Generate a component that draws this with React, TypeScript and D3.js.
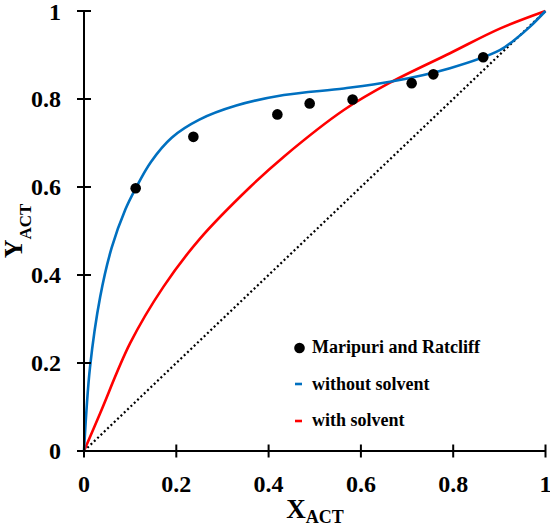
import React from "react";
import * as d3 from "d3";

const xTicks = [0, 0.2, 0.4, 0.6, 0.8, 1];
const yTicks = [0, 0.2, 0.4, 0.6, 0.8, 1];

const expX = [0.112, 0.237, 0.419, 0.489, 0.582, 0.71, 0.757, 0.865];
const expY = [0.597, 0.714, 0.765, 0.79, 0.799, 0.836, 0.856, 0.895];

const blueX = [0, 0.013, 0.035, 0.06, 0.09, 0.112, 0.145, 0.19, 0.25, 0.33, 0.433, 0.563, 0.663, 0.793, 0.901, 0.93, 0.966, 1];
const blueY = [0, 0.19, 0.35, 0.462, 0.55, 0.597, 0.657, 0.712, 0.753, 0.785, 0.809, 0.824, 0.839, 0.87, 0.911, 0.932, 0.964, 1];

const redX = [0, 0.035, 0.1, 0.172, 0.25, 0.36, 0.433, 0.563, 0.663, 0.793, 0.901, 1];
const redY = [0, 0.086, 0.245, 0.373, 0.481, 0.6, 0.669, 0.775, 0.837, 0.904, 0.96, 1];

const diagX = [0, 1];
const diagY = [0, 1];

const legendLabels = ["Maripuri and Ratcliff", "without solvent", "with solvent"];

const FONT = "'Times New Roman', 'Liberation Serif', 'DejaVu Serif', serif";
const BLUE = "#0070C0";
const RED = "#FF0000";

export default function App() {
  const x = d3.scaleLinear().domain([0, 1]).range([84, 545.5]);
  const y = d3.scaleLinear().domain([0, 1]).range([451, 11]);

  const line = d3
    .line<[number, number]>()
    .x((d) => x(d[0]))
    .y((d) => y(d[1]))
    .curve(d3.curveCatmullRom.alpha(0.5));
  const straight = d3
    .line<[number, number]>()
    .x((d) => x(d[0]))
    .y((d) => y(d[1]));

  const zip = (a: number[], b: number[]) => a.map((v, i) => [v, b[i]] as [number, number]);
  const textStyle = { fontFamily: FONT, fontWeight: 700 } as React.CSSProperties;

  return (
    <div style={{ position: "fixed", left: 0, top: 0 }}>
      <svg width={550} height={526} style={{ display: "block", background: "#fff" }}>
        <path d={straight(zip(diagX, diagY)) || ""} fill="none" stroke="#000" strokeWidth={2.2} strokeDasharray="2 2.6" />
        <path d={line(zip(redX, redY)) || ""} fill="none" stroke={RED} strokeWidth={2.6} />
        <path d={line(zip(blueX, blueY)) || ""} fill="none" stroke={BLUE} strokeWidth={2.6} />
        {expX.map((v, i) => (
          <circle key={i} cx={x(v)} cy={y(expY[i])} r={5.3} fill="#000" />
        ))}

        {/* axes */}
        <line x1={x(0)} x2={x(1)} y1={y(0)} y2={y(0)} stroke="#000" strokeWidth={2} />
        <line x1={x(0)} x2={x(0)} y1={y(0)} y2={y(1)} stroke="#000" strokeWidth={2} />
        {xTicks.map((t) => (
          <g key={"xt" + t}>
            <line x1={x(t)} x2={x(t)} y1={y(0) - 6.5} y2={y(0) + 6.5} stroke="#000" strokeWidth={2} />
            <text x={x(t)} y={492} textAnchor="middle" style={{ ...textStyle, fontSize: 24 }}>
              {String(t)}
            </text>
          </g>
        ))}
        {yTicks.map((t) => (
          <g key={"yt" + t}>
            <line x1={x(0) - 7} x2={x(0) + 7} y1={y(t)} y2={y(t)} stroke="#000" strokeWidth={2} />
            <text x={61} y={Math.max(y(t) + 8, 20)} textAnchor="end" style={{ ...textStyle, fontSize: 24 }}>
              {String(t)}
            </text>
          </g>
        ))}

        {/* axis titles */}
        <text x={315} y={518} textAnchor="middle" style={textStyle}>
          <tspan style={{ fontSize: 27 }}>X</tspan>
          <tspan style={{ fontSize: 18 }} dy={5}>ACT</tspan>
        </text>
        <text transform="translate(22,231) rotate(-90)" textAnchor="middle" style={textStyle}>
          <tspan style={{ fontSize: 26 }}>Y</tspan>
          <tspan style={{ fontSize: 17 }} dy={9}>ACT</tspan>
        </text>

        {/* legend */}
        <circle cx={299.5} cy={348} r={5.3} fill="#000" />
        <line x1={295} x2={302} y1={384} y2={384} stroke={BLUE} strokeWidth={2.6} />
        <line x1={295} x2={302} y1={421} y2={421} stroke={RED} strokeWidth={2.6} />
        {legendLabels.map((l, i) => (
          <text key={l} x={312} y={[353, 389.5, 426][i]} style={{ ...textStyle, fontSize: 18 }}>
            {l}
          </text>
        ))}
      </svg>
    </div>
  );
}
